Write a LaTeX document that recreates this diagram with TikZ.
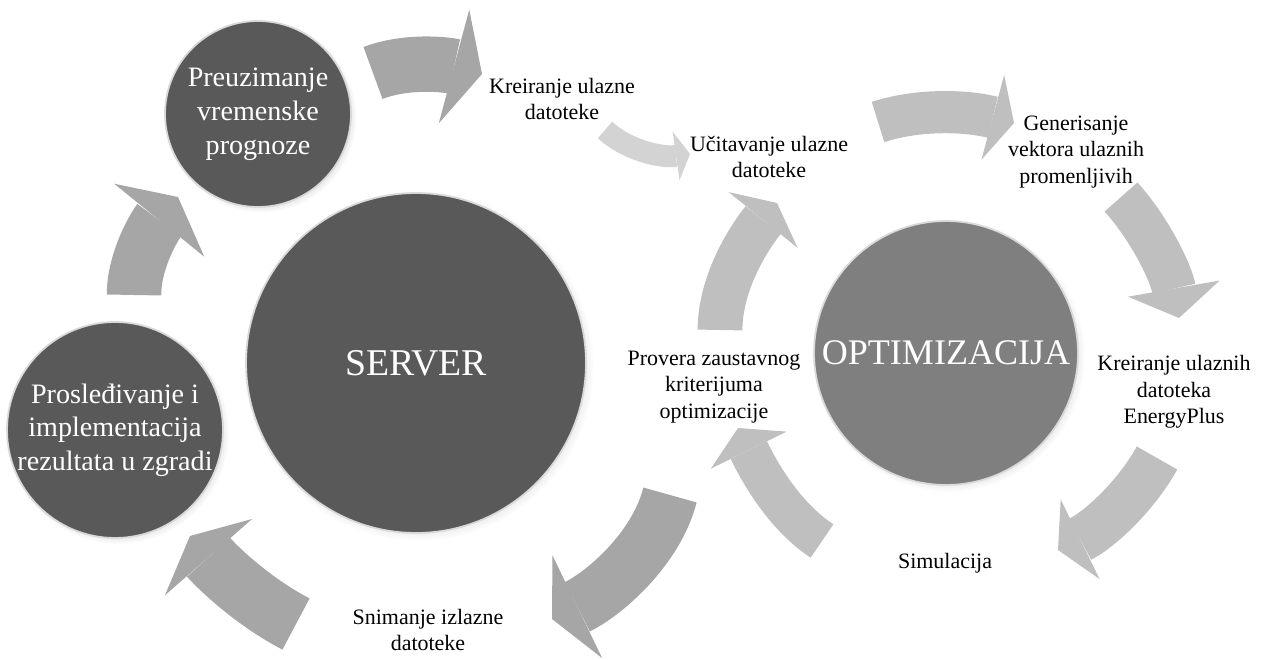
\documentclass[tikz,border=0pt]{standalone}
\usepackage{fontspec}
\setmainfont{Liberation Serif}
\usetikzlibrary{arrows.meta, shadows}

\definecolor{hubdark}{HTML}{595959}
\definecolor{hubmid}{HTML}{7F7F7F}
\definecolor{flowdark}{HTML}{A6A6A6}
\definecolor{flowmid}{HTML}{BFBFBF}
\definecolor{flowlight}{HTML}{D3D3D3}

\begin{document}
\begin{tikzpicture}[x=0.02cm, y=0.02cm,
    hub/.style={circle, draw=white!85!black, line width=1pt, text=white, align=center,
                inner sep=0pt, circular drop shadow={shadow xshift=1.5pt, shadow yshift=-1.5pt,
                shadow scale=1.03, opacity=0.35}},
    task/.style={align=center, font=\fontsize{12.5}{15}\selectfont},
    flow/.style n args={3}{line width=#1, looseness=0.85,
                -{Triangle[width=#2, length=#3, line width=0pt]}}]

    \useasboundingbox (0,0) rectangle (1266,659);

    % Circles
    \node[hub, fill=hubdark, minimum size=6.8cm, font=\fontsize{21.5}{25}\selectfont] (server) at (416,296) {SERVER};
    \node[hub, fill=hubmid, minimum size=5.28cm, font=\fontsize{20.5}{24}\selectfont] (optim) at (946,306) {OPTIMIZACIJA};
    \node[hub, fill=hubdark, minimum size=3.72cm, font=\fontsize{16}{19.5}\selectfont] (forecast) at (258,545) {Preuzimanje\\vremenske\\prognoze};
    \node[hub, fill=hubdark, minimum size=4.32cm,
          label={[text=white, align=center, font=\fontsize{16}{19}\selectfont]center:Prosleđivanje i\\implementacija\\rezultata u zgradi}] (deploy) at (115,229) {};

    % Steps
    \node[task] (makein) at (562,560) {Kreiranje ulazne\\datoteke};
    \node[task] (readin) at (769,502) {Učitavanje ulazne\\datoteke};
    \node[task] (vector) at (1076,507) {Generisanje\\vektora ulaznih\\promenljivih};
    \node[task] (eplus) at (1174,267) {Kreiranje ulaznih\\datoteka\\EnergyPlus};
    \node[task] (sim) at (945,96) {Simulacija};
    \node[task] (check) at (714,272) {Provera zaustavnog\\kriterijuma\\optimizacije};
    \node[task] (saveout) at (428,29) {Snimanje izlazne\\datoteke};

    % Arrow ends
    \coordinate (s1) at (134,364);  \coordinate (t1) at (178,462);
    \coordinate (s2) at (373,586);  \coordinate (t2) at (482,585);
    \coordinate (s3) at (605,529);  \coordinate (t3) at (690,505);
    \coordinate (s4) at (878,537);  \coordinate (t4) at (1014,536);
    \coordinate (s5) at (1121,462); \coordinate (t5) at (1179,341);
    \coordinate (s6) at (1157,201); \coordinate (t6) at (1058,109);
    \coordinate (s7) at (822,118);  \coordinate (t7) at (738,231);
    \coordinate (s8) at (720,329);  \coordinate (t8) at (777,456);
    \coordinate (s9) at (670,164);  \coordinate (t9) at (552,40);
    \coordinate (s10) at (296,35);  \coordinate (t10) at (190,123);

    % Arrows
    \draw[flow={31pt}{66pt}{17pt}, draw=flowdark] (s1) to[out=90, in=231] (t1);
    \draw[flow={31.5pt}{67pt}{16.5pt}, draw=flowdark] (s2) to[out=21, in=165] (t2);
    \draw[flow={12.5pt}{28pt}{8pt}, draw=flowlight] (s3) to[out=-43, in=188] (t3);
    \draw[flow={24pt}{50pt}{12.5pt}, draw=flowmid] (s4) to[out=18, in=165] (t4);
    \draw[flow={25pt}{53pt}{17pt}, draw=flowmid] (s5) to[out=-48, in=100] (t5);
    \draw[flow={26.5pt}{50.5pt}{14pt}, draw=flowmid] (s6) to[out=241, in=26] (t6);
    \draw[flow={23pt}{48pt}{14pt}, draw=flowmid] (s7) to[out=146.6, in=296] (t7);
    \draw[flow={25.5pt}{50.5pt}{12.5pt}, draw=flowmid] (s8) to[out=90, in=231] (t8);
    \draw[flow={31.5pt}{65pt}{16pt}, draw=flowdark] (s9) to[out=-104.4, in=25.8] (t9);
    \draw[flow={33pt}{66pt}{16pt}, draw=flowdark] (s10) to[out=152.6, in=311.2] (t10);

\end{tikzpicture}
\end{document}
